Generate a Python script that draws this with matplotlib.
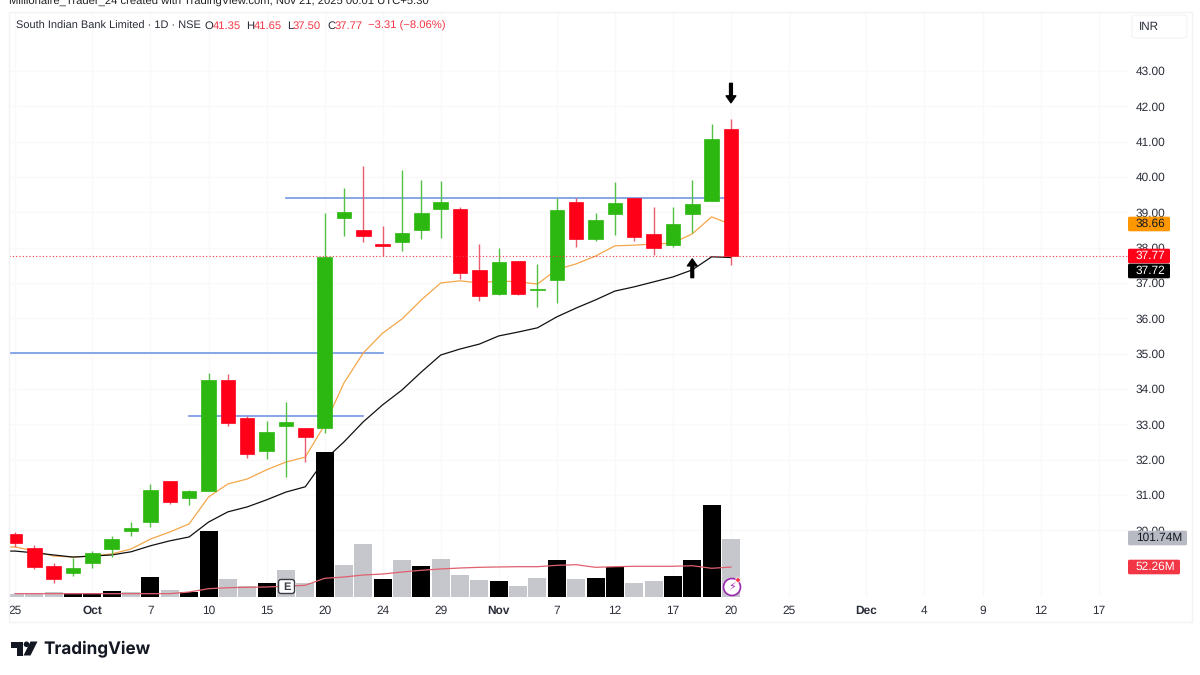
import numpy as np
import matplotlib.pyplot as plt
from matplotlib.patches import FancyBboxPatch, Polygon, Circle, Rectangle

plt.rcParams['font.family'] = ['Liberation Sans', 'DejaVu Sans']
plt.rcParams['text.hinting'] = 'none'

# Candles
opens = [29.89, 29.50, 28.99, 28.79, 29.07, 29.47, 29.98, 30.23, 31.39, 30.91,
         31.11, 34.25, 33.18, 32.24, 32.95, 32.90, 32.90, 38.84, 38.50, 38.10,
         38.16, 38.50, 39.09, 39.09, 37.37, 36.69, 37.62, 36.79, 37.08, 39.29,
         38.24, 38.95, 39.40, 38.39, 38.08, 38.95, 39.32, 41.35]
highs = [29.95, 29.58, 29.07, 29.22, 29.41, 29.84, 30.23, 31.31, 31.39, 31.14,
         34.45, 34.42, 33.23, 33.09, 33.63, 32.90, 38.98, 39.69, 40.31, 38.61,
         40.20, 39.91, 39.89, 39.15, 38.10, 37.99, 37.62, 37.54, 39.40, 39.40,
         38.98, 39.86, 39.40, 39.15, 39.15, 39.91, 41.50, 41.65]
lows = [29.53, 28.90, 28.51, 28.71, 28.93, 29.24, 29.84, 30.09, 30.74, 30.72,
        31.11, 32.95, 32.05, 32.02, 31.51, 31.93, 32.75, 38.33, 38.16, 37.76,
        37.90, 38.24, 38.27, 37.11, 36.49, 36.66, 36.66, 36.32, 36.43, 38.02,
        38.19, 38.36, 38.19, 37.79, 38.02, 38.41, 39.32, 37.50]
closes = [29.64, 28.96, 28.62, 28.93, 29.36, 29.75, 30.06, 31.14, 30.80, 31.11,
          34.25, 33.04, 32.16, 32.78, 33.07, 32.64, 37.74, 39.00, 38.33, 38.05,
          38.41, 38.98, 39.29, 37.28, 36.63, 37.59, 36.69, 36.83, 39.07, 38.24,
          38.78, 39.26, 38.30, 37.99, 38.67, 39.24, 41.08, 37.77]

# Moving averages, first value sits one bar left of the first candle
fast_ma = [29.50, 29.53, 29.41, 29.27, 29.24, 29.27, 29.33, 29.47, 29.75, 29.95, 30.18,
           30.94, 31.31, 31.45, 31.71, 31.93, 32.07, 32.98, 34.17, 35.02, 35.58,
           35.98, 36.52, 37.00, 37.06, 37.00, 37.06, 37.03, 36.97, 37.38, 37.54,
           37.76, 38.05, 38.07, 38.10, 38.13, 38.39, 38.87, 38.66]
slow_ma = [29.41, 29.41, 29.36, 29.30, 29.24, 29.27, 29.30, 29.39, 29.56, 29.70, 29.81,
           30.23, 30.52, 30.66, 30.86, 31.08, 31.23, 31.99, 32.50, 33.07, 33.55,
           33.97, 34.48, 34.96, 35.13, 35.27, 35.50, 35.61, 35.73, 36.04, 36.29,
           36.52, 36.77, 36.89, 37.03, 37.17, 37.37, 37.74, 37.72]

# Volume in millions, black bars and grey bars
volume = [5.8, 5.8, 9.2, 7.0, 7.0, 9.9, 8.7, 35.4, 11.7, 9.2,
          115.7, 31.4, 19.7, 25.0, 46.6, 25.0, 253.5, 55.3, 92.0, 31.4,
          64.6, 53.6, 65.8, 37.9, 30.2, 27.9, 19.7, 32.6, 65.1, 30.9,
          33.2, 52.9, 25.0, 28.4, 36.1, 65.1, 160.5, 101.74]
volume_black = [0, 0, 0, 1, 1, 1, 0, 1, 0, 1, 1, 0, 0, 1, 0, 0, 1, 0, 0, 1,
                0, 1, 0, 0, 0, 1, 0, 0, 1, 0, 1, 1, 0, 0, 1, 1, 1, 0]
volume_ma = [5.8, 5.8, 5.8, 5.8, 5.8, 5.8, 5.8, 5.8, 5.8, 8.7,
             14.5, 16.2, 16.9, 17.5, 18.7, 20.4, 32.6, 34.9, 38.4, 40.1,
             43.6, 46.6, 48.9, 50.6, 51.8, 52.4, 52.9, 52.9, 55.3, 56.4,
             51.8, 52.9, 53.6, 53.6, 53.6, 54.6, 50.1, 52.26]

# Support / resistance lines drawn by hand: price, first bar, last bar
levels = [39.40, 35.02, 33.24]
level_start = [14, -1, 9]
level_end = [37, 19, 18]

# Axis labels
x_tick_pos = [0, 4, 7, 10, 13, 16, 19, 22, 25, 28, 31, 34, 37, 40, 44, 47, 50, 53, 56]
x_tick_labels = ['25', 'Oct', '7', '10', '15', '20', '24', '29', 'Nov', '7', '12', '17',
                 '20', '25', 'Dec', '4', '9', '12', '17']
y_ticks = list(range(30, 44))

GREEN = '#2cb711'
RED = '#ff0019'
GRID = '#f9f9fa'
TEXT = '#2a2e39'

W, H = 1200, 675
fig = plt.figure(figsize=(12, 6.75), dpi=100, facecolor='white')


def pane(left, top, right, bottom, **kw):
    return fig.add_axes([left / W, 1 - bottom / H, (right - left) / W, (bottom - top) / H], **kw)


ax = pane(9, 12, 1129, 597)
ax.set_xlim(-0.31, 57.57)
ax.set_ylim(28.11, 44.67)
ax.set_facecolor('none')

xs = np.arange(len(opens))
ma_x = np.arange(-1, len(opens))

# grid
ax.set_xticks(x_tick_pos)
ax.set_yticks(y_ticks)
ax.grid(True, color=GRID, lw=1)
ax.set_axisbelow(True)
for s in ax.spines.values():
    s.set_visible(False)
ax.tick_params(length=0)
ax.yaxis.tick_right()
ax.set_yticklabels([f'{v:.2f}' for v in y_ticks], fontsize=8.6, color=TEXT)
ax.tick_params(axis='y', pad=5)
ax.set_xticklabels(x_tick_labels, fontsize=8.6, color=TEXT)
ax.tick_params(axis='x', pad=6)
for lbl in ax.get_xticklabels():
    if lbl.get_text() in ('Oct', 'Nov', 'Dec'):
        lbl.set_fontweight('bold')

# hand drawn levels
for p, a, b in zip(levels, level_start, level_end):
    ax.plot([a, b], [p, p], color='#7396e2', lw=1.2, zorder=2)

ax.plot(ma_x, fast_ma, color='#f4a64a', lw=0.9, zorder=3)
ax.plot(ma_x, slow_ma, color='#111111', lw=0.9, zorder=3)

# candles
for i in xs:
    up = closes[i] >= opens[i]
    ax.vlines(i, lows[i], highs[i], color='#55c043' if up else '#ea5c6e', lw=1.0, zorder=4)
    lo, hi = min(opens[i], closes[i]), max(opens[i], closes[i])
    ax.bar(i, hi - lo, bottom=lo, width=0.75, color=GREEN if up else RED,
           edgecolor=GREEN if up else RED, lw=0.5, zorder=5)

ax.axhline(closes[-1], color='#f23645', lw=0.8, ls=(0, (1, 2)), zorder=6)

# volume shares the pane, 1.745M per pixel
vol = pane(9, 12, 1129, 597)
vol.patch.set_visible(False)
vol.set_xlim(ax.get_xlim())
vol.set_ylim(0, 585 * 1.745)
vol.axis('off')
vol.bar(xs, volume, width=0.93,
        color=['#000000' if b else '#c6c7cd' for b in volume_black], zorder=2)
vol.plot(xs, volume_ma, color='#e0606e', lw=0.9, zorder=3)

# arrows on the price pane
ax.annotate('', xy=(37, 42.10), xytext=(37, 42.65), zorder=8,
            arrowprops=dict(width=2.0, headwidth=7, headlength=5, color='black', shrink=0))
ax.annotate('', xy=(35, 37.68), xytext=(35, 37.15), zorder=8,
            arrowprops=dict(width=2.0, headwidth=7, headlength=5, color='black', shrink=0))

# everything else in pixel coordinates
ov = fig.add_axes([0, 0, 1, 1], zorder=10)
ov.set_xlim(0, W)
ov.set_ylim(H, 0)
ov.axis('off')
ov.patch.set_visible(False)

ov.add_patch(Rectangle((9, 12), 1183, 610, fill=False, ec='#f3f3f5', lw=1))

ov.text(9, 2, 'Millionaire_Trader_24 created with TradingView.com, Nov 21, 2025 00:01 UTC+5:30',
        fontsize=8.1, color='#222222', va='center', ha='left')

# legend row
ov.text(16, 26, 'South Indian Bank Limited · 1D · NSE', fontsize=7.9, color=TEXT, va='center')
for x, s, c in [(204, 'O', TEXT), (213, '41.35', '#f23645'), (246, 'H', TEXT),
                (254, '41.65', '#f23645'), (287, 'L', TEXT), (293, '37.50', '#f23645'),
                (327, 'C', TEXT), (335, '37.77', '#f23645'), (368, '−3.31 (−8.06%)', '#f23645')]:
    ov.text(x, 26, s, fontsize=8.1, color=c, va='center')

# INR button
ov.add_patch(FancyBboxPatch((1132, 15), 55, 23, boxstyle='round,pad=0,rounding_size=3',
                            fc='white', ec='#f3f3f5', lw=0.8))
ov.text(1139, 27, 'INR', fontsize=8.4, color=TEXT, va='center', ha='left')


def badge(x0, x1, yc, text, fc, tc):
    ov.add_patch(FancyBboxPatch((x0, yc - 7.3), x1 - x0, 14.6, boxstyle='round,pad=0,rounding_size=1.5',
                                fc=fc, ec='none', zorder=5))
    ov.text(1136, yc, text, fontsize=8.6, color=tc, va='center', ha='left', zorder=6)


badge(1128, 1170, 224, f'{fast_ma[-1]:.2f}', '#ff9800', '#131722')
badge(1128, 1170, 256, f'{closes[-1]:.2f}', '#ff0019', 'white')
badge(1128, 1170, 271, f'{slow_ma[-1]:.2f}', '#000000', 'white')
badge(1128, 1187, 538, f'{volume[-1]:.2f}M', '#b8bac3', '#131722')
badge(1128, 1180, 567, f'{volume_ma[-1]:.2f}M', '#f23645', 'white')

# earnings marker
ov.add_patch(FancyBboxPatch((278.5, 579.5), 16, 14, boxstyle='round,pad=0,rounding_size=2.5',
                            fc='white', ec='#3a3d45', lw=1))
ov.text(286.5, 586.8, 'E', fontsize=8, fontweight='bold', color='#3a3d45', va='center', ha='center')

# purple flash marker
ov.add_patch(Circle((732, 587), 8.5, fc='white', ec='#9c27b0', lw=1.2))
ov.text(732, 587, '⚡', fontsize=8, color='#9c27b0', va='center', ha='center', family='DejaVu Sans')
ov.add_patch(Circle((738, 580), 2.3, fc='#f23645', ec='white', lw=0.5))

# TradingView logo
ov.add_patch(Polygon([(10.5, 641.5), (22.5, 641.5), (22.5, 655.5), (16.5, 655.5),
                      (16.5, 647.5), (10.5, 647.5)], fc='#131722', ec='none'))
ov.add_patch(Circle((26.5, 644.3), 2.8, fc='#131722', ec='none'))
ov.add_patch(Polygon([(30.5, 641.5), (37.5, 641.5), (30.5, 655.5), (23.5, 655.5)], fc='#131722', ec='none'))
ov.text(43, 648.5, 'TradingView', fontsize=12.3, fontweight='bold', color='#131722', va='center',
        family=['Inter', 'DejaVu Sans'])

fig.savefig('out.png', dpi=100)
